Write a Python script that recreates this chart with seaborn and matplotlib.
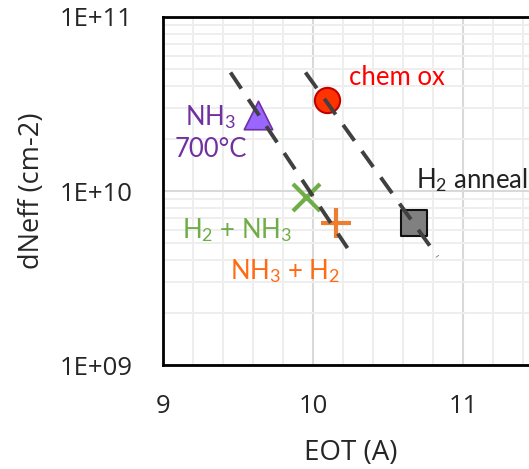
import matplotlib
matplotlib.use("Agg")
import matplotlib.pyplot as plt
from matplotlib.ticker import LogLocator, MultipleLocator, NullFormatter, FixedLocator, FixedFormatter
import numpy as np
import pandas as pd
import seaborn as sns

# Measured points (EOT in Angstrom, dNeff in cm^-2)
labels = ["chem ox", "NH3 700C", "H2 + NH3", "NH3 + H2", "H2 anneal"]
eot = [10.09, 9.63, 9.95, 10.15, 10.67]
dneff = [3.33e10, 2.73e10, 9.25e9, 6.55e9, 6.55e9]

# Guide-to-the-eye trend lines (endpoints)
trend1_eot = [9.45, 10.23]
trend1_dneff = [4.8e10, 4.7e9]
trend2_eot = [9.95, 10.83]
trend2_dneff = [4.8e10, 4.2e9]

ytick_vals = [1e9, 1e10, 1e11]
ytick_text = ["1E+09", "1E+10", "1E+11"]
xtick_vals = [9, 10, 11]

sns.set_style("white")
plt.rcParams["font.family"] = ["Lato", "DejaVu Sans"]
plt.rcParams["mathtext.fontset"] = "custom"
plt.rcParams["mathtext.rm"] = "Lato"
plt.rcParams["mathtext.it"] = "Lato:italic"

fig = plt.figure(figsize=(5.29, 4.69), dpi=100)
ax = fig.add_axes([163 / 529, 1 - 365 / 469, 375 / 529, 348 / 469])
ax.set_yscale("log")
ax.set_xlim(9, 11.5)
ax.set_ylim(1e9, 1e11)

# grid
ax.xaxis.set_minor_locator(MultipleLocator(0.2))
ax.yaxis.set_minor_locator(LogLocator(base=10, subs=np.arange(2, 10)))
ax.yaxis.set_minor_formatter(NullFormatter())
ax.grid(which="minor", color="#eeeeee", linewidth=1.4, zorder=0)
ax.grid(which="major", color="#d9d9d9", linewidth=1.5, zorder=0)
ax.set_axisbelow(True)

# points
styles = [
    dict(marker="o", s=330, color="#ff3300", edgecolor="#c00000", linewidth=1.5),
    dict(marker="^", s=420, color="#9966ff", edgecolor="#7030a0", linewidth=1.2),
    dict(marker="x", s=380, color="#70ad47", linewidth=3),
    dict(marker="+", s=470, color="#ed7d31", linewidth=3),
    dict(marker="s", s=330, color="#808080", edgecolor="#111111", linewidth=1.5),
]
for i, st in enumerate(styles):
    d = pd.DataFrame({"x": [eot[i]], "y": [dneff[i]]})
    sns.scatterplot(data=d, x="x", y="y", ax=ax, zorder=2, **st)

# trend lines, drawn above the markers
t1 = pd.DataFrame({"x": trend1_eot, "y": trend1_dneff})
t2 = pd.DataFrame({"x": trend2_eot, "y": trend2_dneff})
for t in (t1, t2):
    sns.lineplot(data=t, x="x", y="y", ax=ax, color="#404040", linewidth=2.8,
                 linestyle=(0, (5, 3.3)), zorder=3)

# annotations
fs = 18.5
ax.text(10.24, 4.06e10, "chem ox", color="#ff0000", fontsize=fs, va="baseline", ha="left")
ax.text(9.147, 2.39e10, "NH$_3$", color="#7030a0", fontsize=fs, va="baseline", ha="left")
ax.text(9.08, 1.57e10, "700°C", color="#7030a0", fontsize=fs, va="baseline", ha="left")
ax.text(10.69, 1.04e10, "H$_2$ anneal", color="#222222", fontsize=fs, va="baseline", ha="left")
ax.text(9.127, 5.37e9, "H$_2$ + NH$_3$", color="#70ad47", fontsize=fs, va="baseline", ha="left")
ax.text(9.447, 3.12e9, "NH$_3$ + H$_2$", color="#ff6a13", fontsize=fs, va="baseline", ha="left")

# axes styling
ax.yaxis.set_major_locator(FixedLocator(ytick_vals))
ax.yaxis.set_major_formatter(FixedFormatter(ytick_text))
ax.set_xticks(xtick_vals)
ax.set_xticklabels([str(v) for v in xtick_vals])
for lab in ax.get_xticklabels() + ax.get_yticklabels():
    lab.set_family(["Open Sans", "DejaVu Sans"])
    lab.set_fontsize(18.5)
ax.tick_params(axis="both", which="both", direction="in", length=6, width=2, color="black")
ax.tick_params(axis="y", which="major", pad=22)
ax.tick_params(axis="x", which="major", pad=21)
for side in ["left", "bottom", "top"]:
    ax.spines[side].set_color("black")
    ax.spines[side].set_linewidth(2)
ax.spines["right"].set_visible(False)

ax.set_xlabel("EOT (A)", fontsize=20, family=["Open Sans", "DejaVu Sans"], labelpad=14)
ax.set_ylabel("dNeff (cm-2)", fontsize=19.5, family=["Open Sans", "DejaVu Sans"], labelpad=10)

fig.savefig("out.png", dpi=100)
